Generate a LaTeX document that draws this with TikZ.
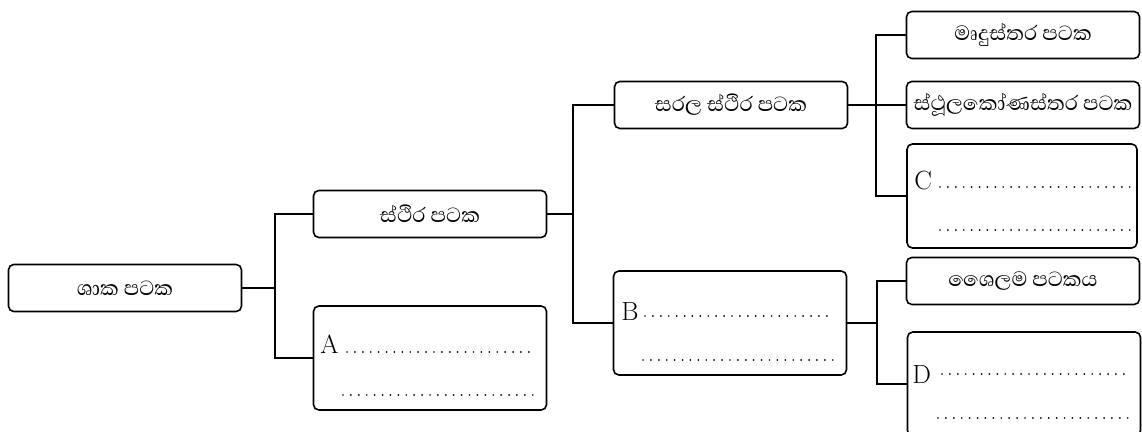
\documentclass[tikz,border=0pt]{standalone}
\usepackage{fontspec}
\newfontfamily\sinfont[Script=Sinhala]{Abhaya Libre}
\usepackage{tikz}
\usetikzlibrary{calc,positioning}

\tikzset{
  tissue/.style={draw, line width=0.9pt, rounded corners=3pt, minimum width=4.66cm,
    minimum height=0.94cm, inner sep=0pt, font=\sinfont\fontsize{15}{17}\selectfont},
  blankbox/.style={tissue, minimum height=2.08cm},
  link/.style={line width=0.6pt},
  fillin/.style={line width=1.1pt, line cap=round, dash pattern=on 0pt off 4.5pt},
  letter/.style={anchor=base west, inner sep=0pt, font=\fontsize{15}{18}\selectfont}
}

\begin{document}
\begin{tikzpicture}[x=0.02cm,y=-0.02cm]
\useasboundingbox (0,0) rectangle (1142,432);

\node[tissue] (plant) at (125,288) {ශාක පටක};

\node[tissue] (perm) at (430,214) {ස්ථිර පටක};
\node[blankbox] (A) at (430,358) {};

\node[tissue] (simple) at (731,105) {සරල ස්ථිර පටක};
\node[blankbox] (B) at (730,323) {};

\node[tissue] (paren) at (1023,35) {මෘදුස්තර පටක};
\node[tissue] (colle) at (1023,105) {ස්ථූලකෝණස්තර පටක};
\node[blankbox, minimum width=4.6cm] (C) at (1022,196) {};

\node[tissue] (xylem) at (1023,281) {ශෛලම පටකය};
\node[blankbox] (D) at (1024,384) {};

%%%%%%%%%%%%%%%
\coordinate (j1) at (275,288);
\draw[link] (plant) -- (j1);
\draw[link] (j1) |- (perm);
\draw[link] (j1) |- (A);

\coordinate (j2) at (573,214);
\draw[link] (perm) -- (j2);
\draw[link] (j2) |- (simple);
\draw[link] (j2) |- (B);

\coordinate (j3) at (876,105);
\draw[link] (simple) -- (colle);
\draw[link] (j3) |- (paren);
\draw[link] (j3) |- (C);

\coordinate (j4) at (877,323);
\draw[link] (B) -- (j4);
\draw[link] (j4) |- (xylem);
\draw[link] (j4) |- (D);

%%%%%%%%%%%%%%%
\node[letter] (la) at (320,353) {A};
\draw[fillin] (347,352) -- (533,352);
\draw[fillin] (343,395) -- (533,395);

\node[letter] (lb) at (621,320) {B};
\draw[fillin] (645,316) -- (833,316);
\draw[fillin] (643,360) -- (833,360);

\node[letter] (lc) at (914,190) {C};
\draw[fillin] (940,187) -- (1130,187);
\draw[fillin] (940,230) -- (1130,230);

\node[letter] (ld) at (912,383) {D};
\draw[fillin] (942,374) -- (1130,374);
\draw[fillin] (938,418) -- (1130,418);

\end{tikzpicture}
\end{document}
